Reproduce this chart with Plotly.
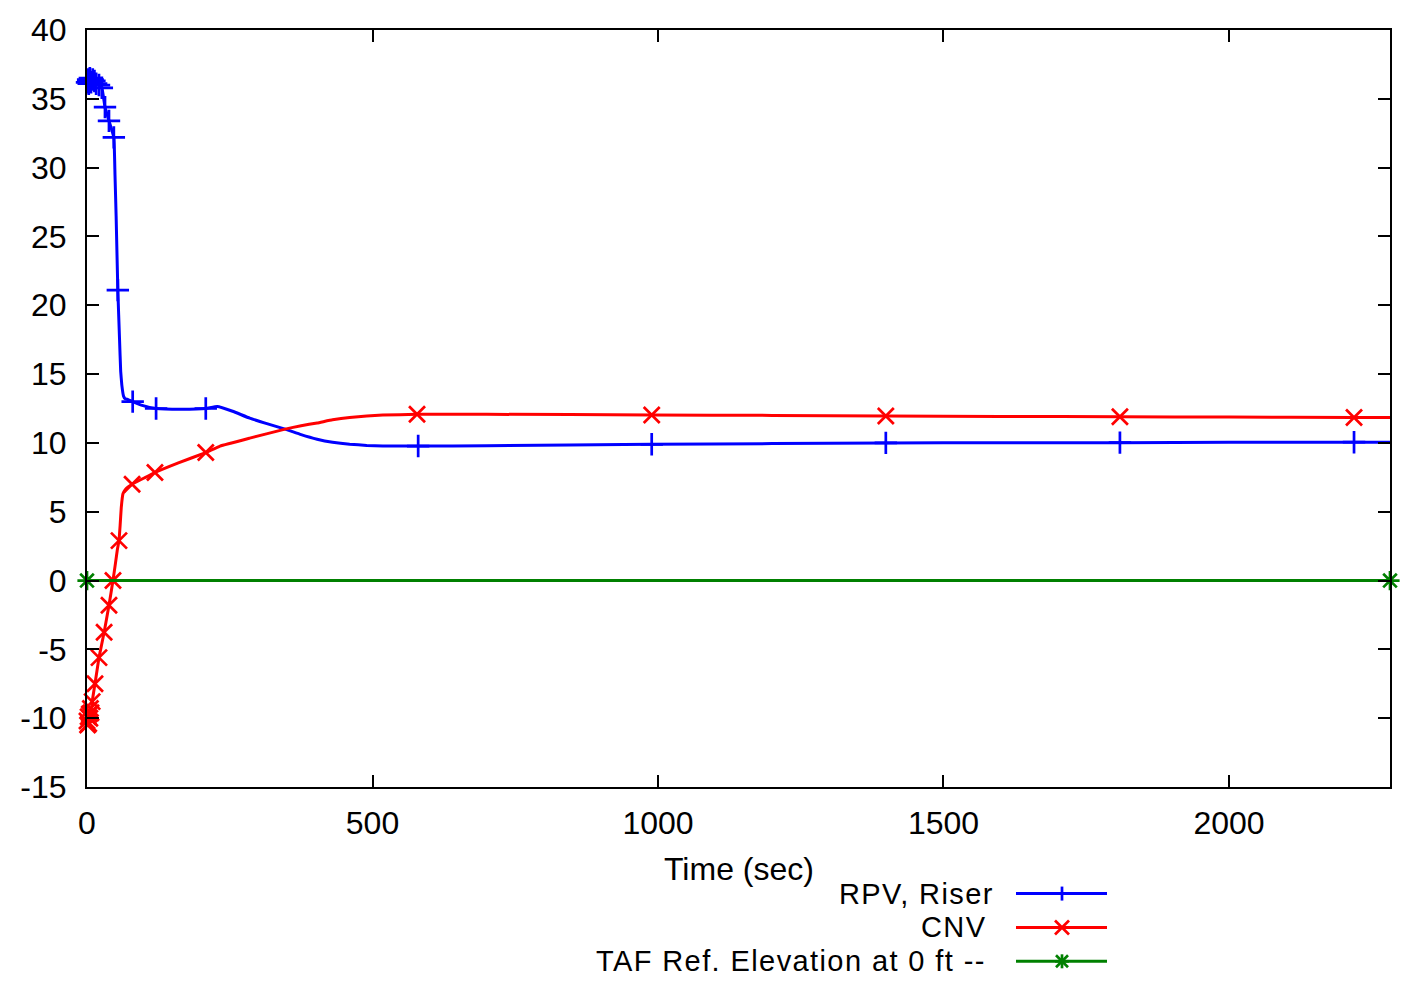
import plotly.graph_objects as go

# ---------------- data ----------------
rpv_t = [0, 2, 3, 5, 7, 10, 13, 16, 21, 26, 31.5, 38.5, 47, 49, 51, 54, 57, 59, 61,
         64, 67, 72, 80, 95, 121, 165, 208, 228, 255, 285, 315, 347, 375, 403, 430,
         460, 490, 518, 580, 700, 989, 1200, 1399, 1600, 1809, 2000, 2219, 2282]
rpv_v = [36.2, 36.4, 36.1, 36.5, 36.2, 36.4, 36.3, 36.1, 36.0, 35.8, 34.4, 33.4, 32.2,
         29.5, 26.5, 21.1, 17.5, 15.2, 14.2, 13.4, 13.2, 13.15, 13.0, 12.75, 12.5,
         12.45, 12.5, 12.65, 12.3, 11.8, 11.4, 11.0, 10.6, 10.27, 10.05, 9.9, 9.82,
         9.78, 9.77, 9.8, 9.9, 9.95, 10.0, 10.01, 10.02, 10.04, 10.05, 10.05]
rpv_marks = [0, 2, 3, 5, 7, 10, 13, 16, 21, 26, 31.5, 38.5, 47, 54, 80, 121, 208,
             580, 989, 1399, 1809, 2219]

cnv_t = [0, 1, 2, 3, 4, 5, 6, 7, 9, 14, 21, 30, 38.5, 45.5, 50, 53, 56, 58, 60, 63,
         67, 72, 79, 100, 119, 160, 208, 233, 285, 347, 375, 403, 430, 460, 490, 518,
         578, 700, 989, 1200, 1399, 1600, 1809, 2000, 2219, 2282]
cnv_v = [-10.2, -10.5, -9.9, -10.4, -9.7, -10.0, -9.3, -9.6, -8.8, -7.5, -5.6, -3.76,
         -1.8, 0.0, 1.3, 2.2, 2.9, 4.0, 5.3, 6.3, 6.6, 6.8, 7.0, 7.45, 7.85, 8.55, 9.3,
         9.77, 10.35, 11.0, 11.25, 11.45, 11.68, 11.85, 11.96, 12.02, 12.08, 12.08,
         12.03, 12.0, 11.95, 11.92, 11.9, 11.88, 11.85, 11.85]
cnv_marks = [0, 1, 2, 3, 4, 5, 6, 7, 9, 14, 21, 30, 38.5, 45.5, 56, 79, 119, 208,
             578, 989, 1399, 1809, 2219]

taf_t = [0, 2282]
taf_v = [0, 0]

x_ticks = [0, 500, 1000, 1500, 2000]
y_ticks = [-15, -10, -5, 0, 5, 10, 15, 20, 25, 30, 35, 40]

series_names = ["RPV, Riser", "CNV", "TAF Ref. Elevation at 0 ft --"]
colors = ["#0000ff", "#ff0000", "#008000"]
symbols = ["cross-thin", "x-thin", "asterisk"]

FONT = "Liberation Sans, Arial, Helvetica, sans-serif"
FS = 32
FS_LEG = 29

# ---------------- figure ----------------
fig = go.Figure()

def add_series(t, v, marks, color, symbol, name):
    fig.add_trace(go.Scatter(x=t, y=v, mode="lines",
                             line=dict(color=color, width=3, shape="spline", smoothing=0.3),
                             name=name, showlegend=False, hoverinfo="skip"))
    mv = [v[t.index(m)] for m in marks]
    fig.add_trace(go.Scatter(x=marks, y=mv, mode="markers", cliponaxis=False,
                             marker=dict(symbol=symbol, size=16, color=color,
                                         line=dict(color=color, width=2.7)),
                             name=name, showlegend=False))

add_series(rpv_t, rpv_v, rpv_marks, colors[0], symbols[0], series_names[0])
add_series(cnv_t, cnv_v, cnv_marks, colors[1], symbols[1], series_names[1])
add_series(taf_t, taf_v, taf_t, colors[2], symbols[2], series_names[2])

# plot area in pixels
L, R, T, B = 87, 1390, 27, 787
W, H = 1417, 989
pw, ph = R - L, B - T

def px(xp):
    return (xp - L) / pw

def py(yp):
    return (B - yp) / ph

axis_common = dict(showline=True, linewidth=2, linecolor="black", mirror="allticks",
                   ticks="inside", ticklen=12, tickwidth=1.5, tickcolor="black",
                   showgrid=False, zeroline=False,
                   tickfont=dict(family=FONT, size=FS, color="black"))

fig.update_xaxes(range=[0, 2282], tickvals=x_ticks, ticktext=[str(v) for v in x_ticks],
                 ticklabelstandoff=7, **axis_common)
fig.update_yaxes(range=[-15, 40], tickvals=y_ticks, ticktext=[str(v) for v in y_ticks],
                 ticklabelstandoff=12, **axis_common)

annotations = [dict(text="Time (sec)", xref="paper", yref="paper", x=0.5, y=py(869),
                    xanchor="center", yanchor="middle", showarrow=False,
                    font=dict(family=FONT, size=FS, color="black"))]

shapes = []
leg_y = [894, 928, 962]
leg_right = [995, 987, 987]
for i, name in enumerate(series_names):
    yp = py(leg_y[i])
    annotations.append(dict(text='<span style="letter-spacing:1.4px">' + name + '</span>',
                            xref="paper", yref="paper", x=px(leg_right[i]), y=yp,
                            xanchor="right", yanchor="middle", showarrow=False,
                            borderpad=0,
                            font=dict(family=FONT, size=FS_LEG, color="black")))
    shapes.append(dict(type="line", xref="paper", yref="paper", x0=px(1016), x1=px(1107),
                       y0=yp, y1=yp, line=dict(color=colors[i], width=3)))
    cx = px(1062)
    def seg(dx0, dy0, dx1, dy1, c=colors[i], cy=yp):
        shapes.append(dict(type="line", xref="paper", yref="paper",
                           xsizemode="pixel", ysizemode="pixel", xanchor=cx, yanchor=cy,
                           x0=dx0, y0=dy0, x1=dx1, y1=dy1,
                           line=dict(color=c, width=2.7)))
    r = 7
    d = 7
    if i == 0:
        seg(-r, 0, r, 0); seg(0, -r, 0, r)
    elif i == 1:
        seg(-d, -d, d, d); seg(-d, d, d, -d)
    else:
        seg(-r, 0, r, 0); seg(0, -r, 0, r); seg(-6, -6, 6, 6); seg(-6, 6, 6, -6)

fig.update_layout(width=W, height=H, margin=dict(l=L, r=W - R, t=T, b=H - B),
                  paper_bgcolor="white", plot_bgcolor="white",
                  font=dict(family=FONT, size=FS, color="black"),
                  annotations=annotations, shapes=shapes, showlegend=False)

fig.write_html("out.html")
